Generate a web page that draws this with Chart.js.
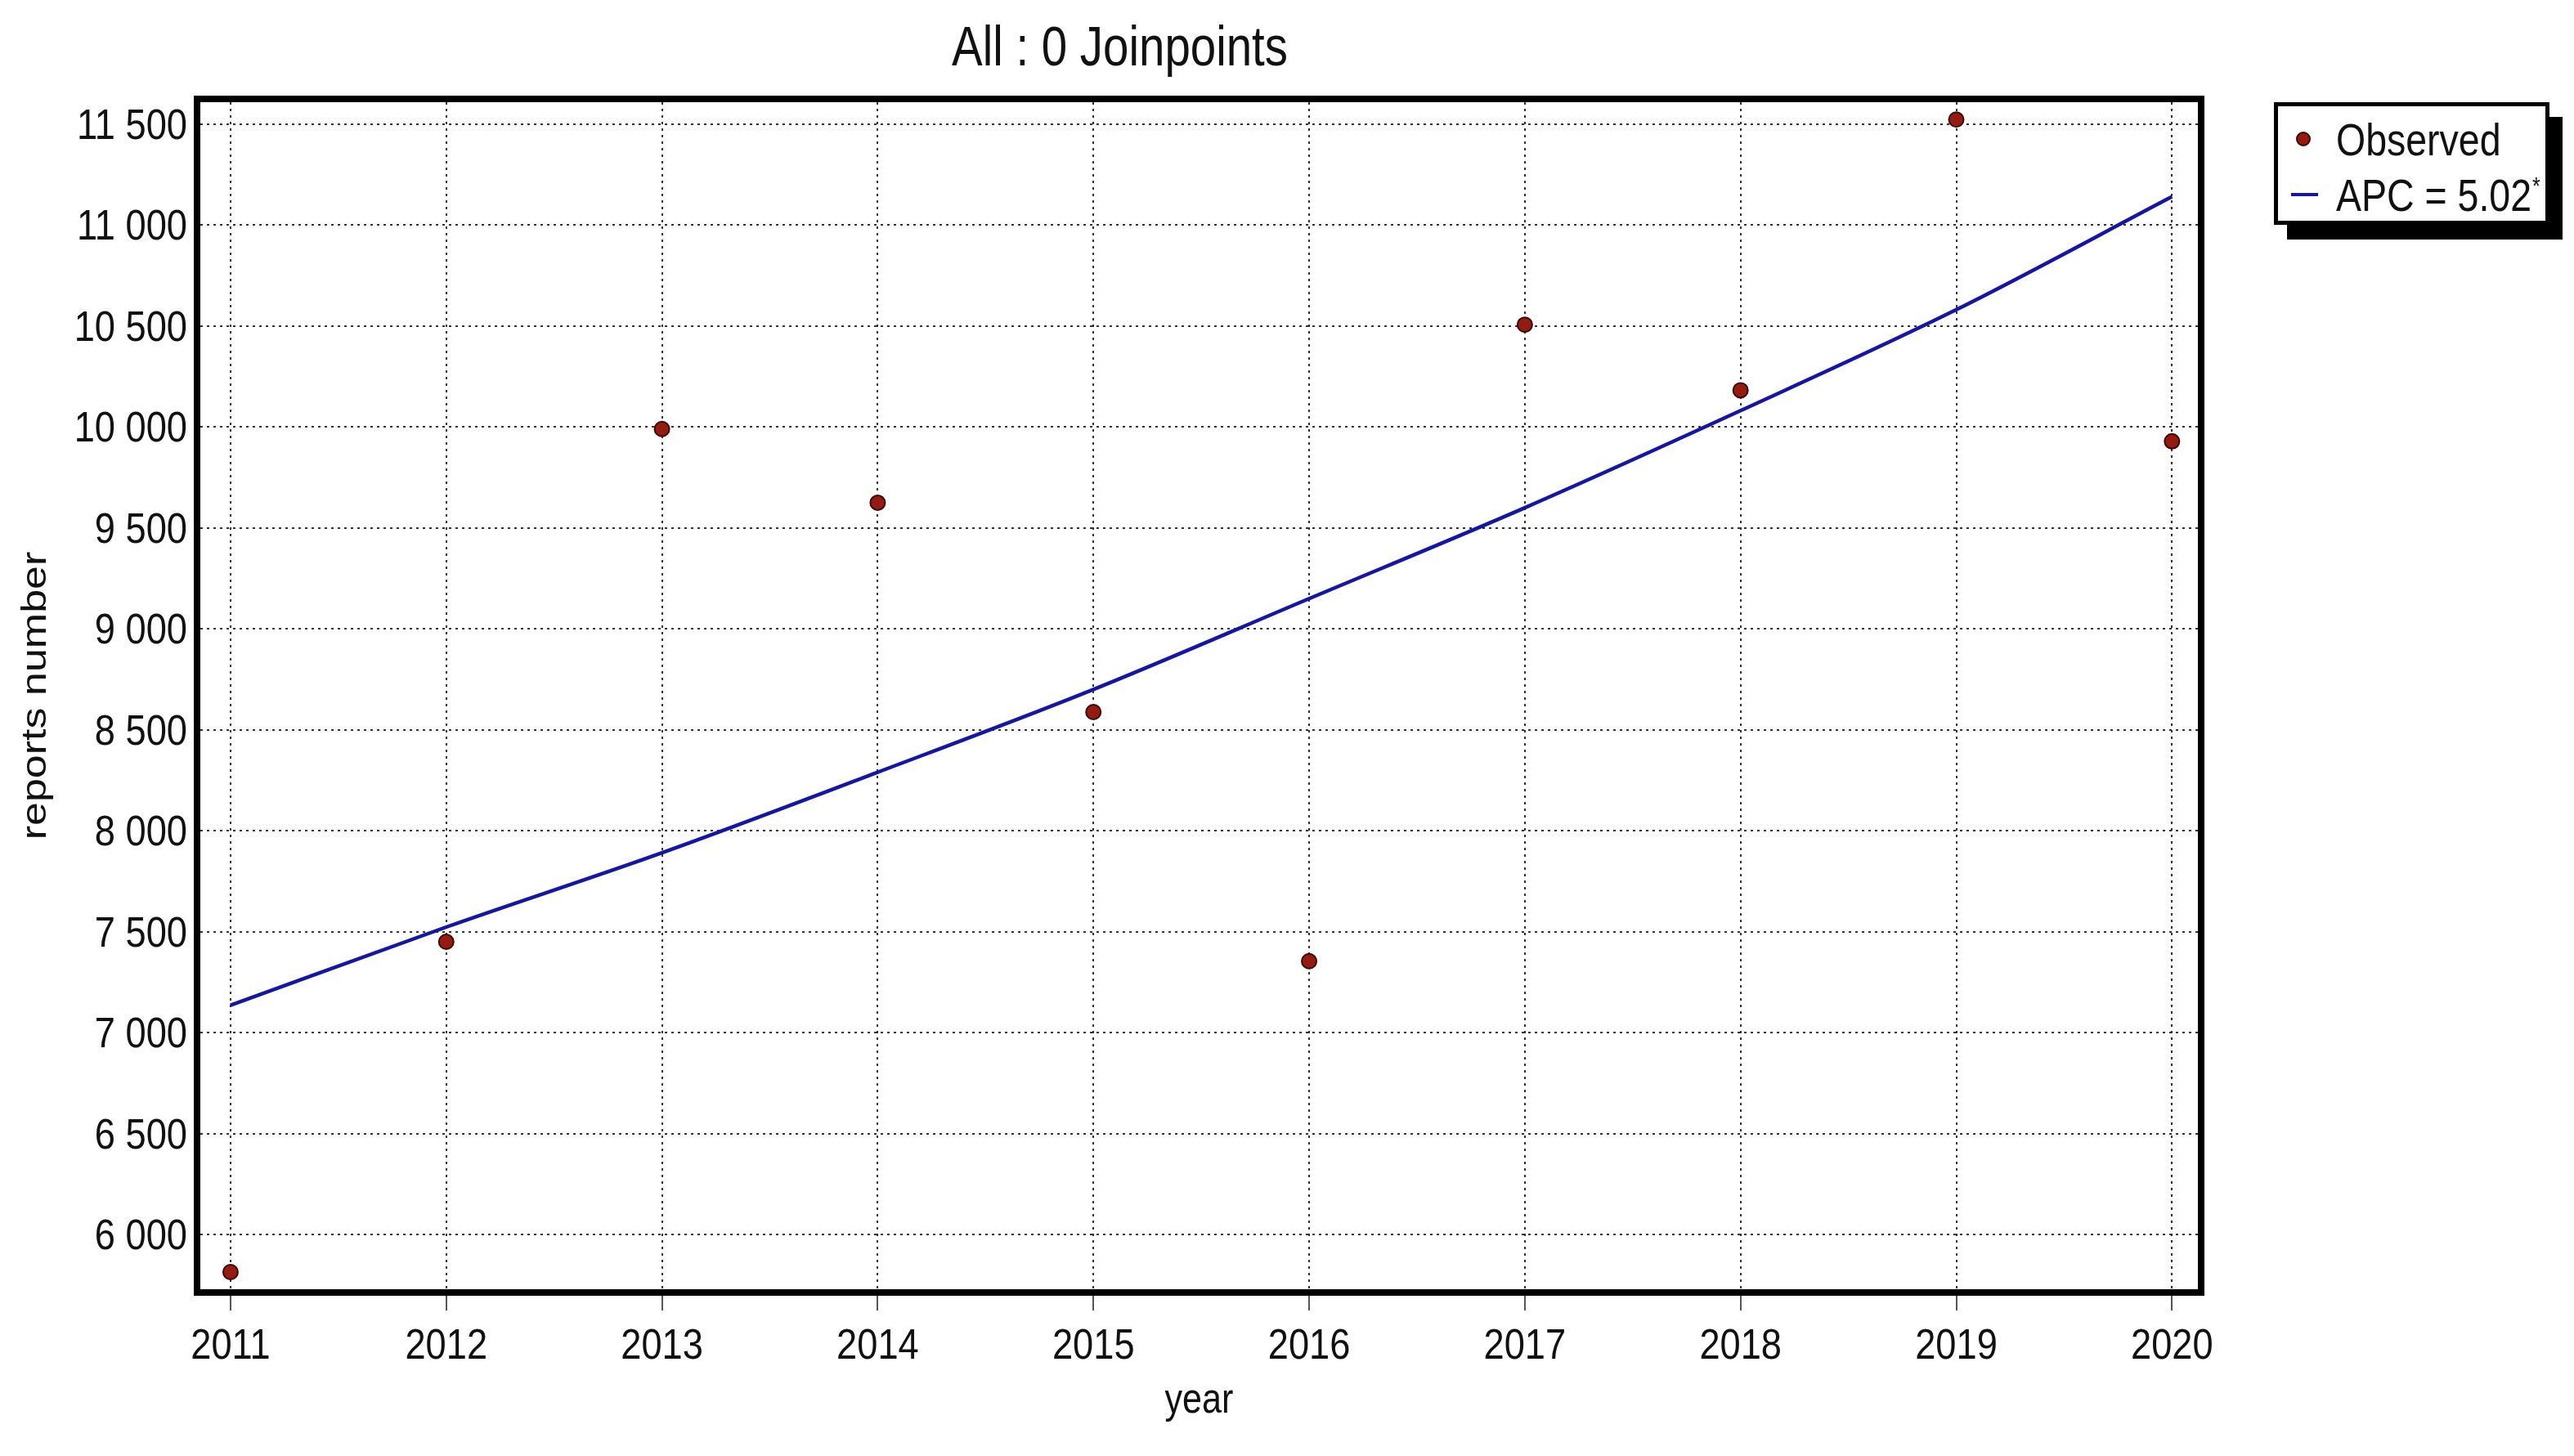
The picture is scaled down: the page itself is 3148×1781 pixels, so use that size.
<!DOCTYPE html>
<html>
<head>
<meta charset="utf-8">
<script src="https://cdn.jsdelivr.net/npm/chart.js@4.4.0/dist/chart.umd.min.js"></script>
<style>
  html, body { margin: 0; padding: 0; background: #fff; }
  #chart { display: block; }
</style>
</head>
<body>
<canvas id="chart" width="3148" height="1781"></canvas>
<script>
// Joinpoint trend: observed reports per year and the fitted 0-joinpoint model
const years = [2011, 2012, 2013, 2014, 2015, 2016, 2017, 2018, 2019, 2020];
const observed = [5814, 7450, 9990, 9625, 8588, 7354, 10507, 10182, 11523, 9929];
const fitted = [7136, 7523, 7891, 8290, 8700, 9150, 9600, 10081, 10581, 11141];
const yTickValues = [6000, 6500, 7000, 7500, 8000, 8500, 9000, 9500, 10000, 10500, 11000, 11500];
const seriesNames = ['Observed', 'APC = 5.02'];
const titleText = 'All : 0 Joinpoints';
const xTitle = 'year', yTitle = 'reports number';

const FONT = '"Liberation Sans", Arial, sans-serif';
const SX = 0.83; // the source image is squeezed horizontally, so text is drawn condensed
const RED = '#951a10', BLUE = '#1616a6', INK = '#111';

const fmtThousands = v => String(v).replace(/\B(?=(\d{3})+(?!\d))/g, ' ');

// draw condensed text at (x, y)
function condText(ctx, text, x, y, size, align, sx) {
    ctx.save();
    ctx.translate(x, y);
    ctx.scale(sx || SX, 1);
    ctx.font = size + 'px ' + FONT;
    ctx.textAlign = align || 'left';
    ctx.textBaseline = 'alphabetic';
    ctx.fillStyle = INK;
    ctx.fillText(text, 0, 0);
    const w = ctx.measureText(text).width * (sx || SX);
    ctx.restore();
    return w;
}

// tick labels, axis titles, frame, title and boxed legend
const decorPlugin = {
    id: 'decor',
    afterDraw: function(chart) {
        const ctx = chart.ctx, a = chart.chartArea;
        const xs = chart.scales.x, ys = chart.scales.y;
        ctx.save();

        // thick plot frame
        ctx.strokeStyle = '#000';
        ctx.lineWidth = 8;
        ctx.strokeRect(a.left - 4, a.top - 4, a.width + 8, a.height + 8);

        // tick labels from the scales
        ys.ticks.forEach(t => {
            condText(ctx, fmtThousands(t.value), a.left - 16, ys.getPixelForValue(t.value) + 18, 52, 'right', 0.87);
        });
        xs.ticks.forEach(t => {
            condText(ctx, String(t.value), xs.getPixelForValue(t.value), a.bottom + 85, 52, 'center', 0.87);
        });

        // axis titles
        condText(ctx, xTitle, (a.left + a.right) / 2, a.bottom + 151, 52, 'center');
        ctx.save();
        ctx.translate(44, (a.top + a.bottom) / 2);
        ctx.rotate(-Math.PI / 2);
        ctx.scale(1, SX);
        ctx.font = '52px ' + FONT;
        ctx.textAlign = 'center';
        ctx.textBaseline = 'middle';
        ctx.fillStyle = INK;
        ctx.fillText(yTitle, 0, 0);
        ctx.restore();

        // title (sits a bit left of the plot centre)
        condText(ctx, titleText, (a.left + a.right) / 2 - 97, 80, 68, 'center');

        // legend box with drop shadow
        const bx = a.right + 93, by = a.top, bw = 337, bh = 150;
        ctx.fillStyle = '#000';
        ctx.fillRect(bx + 16, by + 18, bw, bh);
        ctx.fillStyle = '#fff';
        ctx.fillRect(bx, by, bw, bh);
        ctx.lineWidth = 5;
        ctx.strokeStyle = '#000';
        ctx.strokeRect(bx + 2.5, by + 2.5, bw - 5, bh - 5);

        ctx.beginPath();
        ctx.arc(bx + 36, by + 45, 8, 0, Math.PI * 2);
        ctx.fillStyle = RED;
        ctx.fill();
        ctx.lineWidth = 2;
        ctx.strokeStyle = '#3b0905';
        ctx.stroke();
        condText(ctx, seriesNames[0], bx + 76, by + 65, 56);

        ctx.beginPath();
        ctx.moveTo(bx + 21, by + 113);
        ctx.lineTo(bx + 54, by + 113);
        ctx.lineWidth = 4;
        ctx.strokeStyle = BLUE;
        ctx.stroke();
        const w = condText(ctx, seriesNames[1], bx + 76, by + 133, 56);
        condText(ctx, '*', bx + 76 + w + 1, by + 112, 30);

        ctx.restore();
    }
};

const gridCommon = { color: '#333', lineWidth: 2 };

new Chart(document.getElementById('chart'), {
    type: 'scatter',
    data: {
        datasets: [
            {
                label: seriesNames[1],
                type: 'line',
                data: years.map((x, i) => ({ x: x, y: fitted[i] })),
                borderColor: BLUE,
                borderWidth: 4.5,
                pointRadius: 0,
                fill: false,
                cubicInterpolationMode: 'monotone',
                order: 2
            },
            {
                label: seriesNames[0],
                data: years.map((x, i) => ({ x: x, y: observed[i] })),
                backgroundColor: RED,
                borderColor: '#3b0905',
                borderWidth: 2,
                pointRadius: 9,
                order: 1
            }
        ]
    },
    options: {
        responsive: false,
        animation: false,
        devicePixelRatio: 1,
        layout: { padding: { left: 0, top: 125, right: 460, bottom: 51 } },
        plugins: {
            legend: { display: false },
            title: { display: false },
            tooltip: { enabled: false }
        },
        scales: {
            x: {
                type: 'linear',
                min: 2010.86,
                max: 2020.12,
                afterBuildTicks: s => { s.ticks = years.map(v => ({ value: v })); },
                afterFit: s => { s.height = 153; },
                border: { display: false, dash: [3, 5] },
                grid: Object.assign({}, gridCommon, { drawTicks: true, tickLength: 26, tickColor: '#555', tickWidth: 2 }),
                ticks: { display: false }
            },
            y: {
                min: 5729,
                max: 11609,
                afterBuildTicks: s => { s.ticks = yTickValues.map(v => ({ value: v })); },
                afterFit: s => { s.width = 245; },
                border: { display: false, dash: [3, 5] },
                grid: Object.assign({}, gridCommon, { drawTicks: false }),
                ticks: { display: false }
            }
        }
    },
    plugins: [decorPlugin]
});
</script>
</body>
</html>
